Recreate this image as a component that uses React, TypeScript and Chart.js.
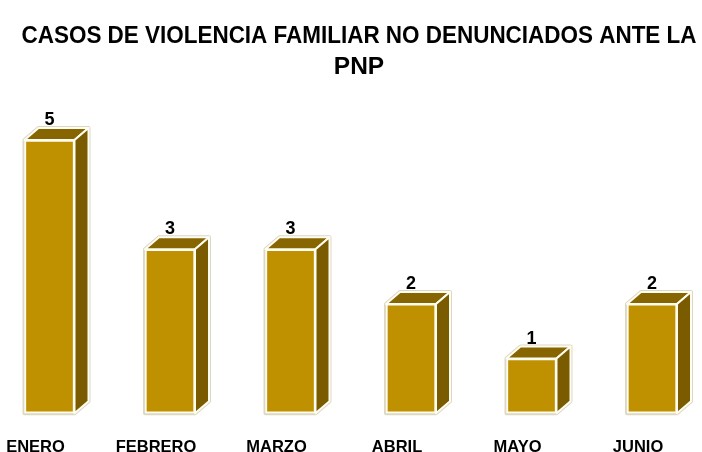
import React, { useEffect, useRef } from 'react';
import { Chart, registerables } from 'chart.js';

Chart.register(...registerables);

const categories = ['ENERO', 'FEBRERO', 'MARZO', 'ABRIL', 'MAYO', 'JUNIO'];
const casos = [5, 3, 3, 2, 1, 2];
const titleLines = ['CASOS DE VIOLENCIA FAMILIAR NO DENUNCIADOS ANTE LA', 'PNP'];

const FRONT = '#BF9000';
const TOP = '#876500';
const SIDE = '#7A5B00';
const DX = 14;
const DY = 12;
const FONT = "'Liberation Sans', Arial, Helvetica, sans-serif";
const BUF_H = 482;

const bars3d = {
  id: 'bars3d',
  beforeDatasetsDraw(chart: any) {
    const meta = chart.getDatasetMeta(0);
    const ctx = chart.ctx;
    ctx.save();
    meta.data.forEach((bar: any) => {
      const { x, y, base, width } = bar.getProps(['x', 'y', 'base', 'width'], true);
      const l = x - width / 2;
      const r = x + width / 2;
      ctx.beginPath();
      ctx.moveTo(l, base);
      ctx.lineTo(l, y);
      ctx.lineTo(l + DX, y - DY);
      ctx.lineTo(r + DX, y - DY);
      ctx.lineTo(r + DX, base - DY);
      ctx.lineTo(r, base);
      ctx.closePath();
      ctx.lineJoin = 'round';
      ctx.strokeStyle = '#ddd8c4';
      ctx.lineWidth = 4;
      ctx.stroke();
      ctx.beginPath();
      ctx.moveTo(l, y);
      ctx.lineTo(l + DX, y - DY);
      ctx.lineTo(r + DX, y - DY);
      ctx.lineTo(r, y);
      ctx.closePath();
      ctx.fillStyle = TOP;
      ctx.fill();
      ctx.strokeStyle = '#fffdf2';
      ctx.lineWidth = 2;
      ctx.stroke();
      ctx.beginPath();
      ctx.moveTo(r, y);
      ctx.lineTo(r + DX, y - DY);
      ctx.lineTo(r + DX, base - DY);
      ctx.lineTo(r, base);
      ctx.closePath();
      ctx.fillStyle = SIDE;
      ctx.fill();
      ctx.stroke();
    });
    ctx.restore();
  },
  afterDatasetsDraw(chart: any) {
    const meta = chart.getDatasetMeta(0);
    const ctx = chart.ctx;
    const data = chart.data.datasets[0].data;
    ctx.save();
    ctx.fillStyle = '#000';
    ctx.font = `bold 18px ${FONT}`;
    ctx.textAlign = 'center';
    ctx.textBaseline = 'middle';
    meta.data.forEach((bar: any, i: number) => {
      const { x, y } = bar.getProps(['x', 'y'], true);
      ctx.fillText(String(data[i]), x, y - 20);
    });
    ctx.restore();
  },
};

export default function App() {
  const ref = useRef<HTMLCanvasElement | null>(null);
  useEffect(() => {
    if (!ref.current) return;
    const chart = new Chart(ref.current, {
      type: 'bar',
      data: {
        labels: categories,
        datasets: [
          {
            data: casos,
            backgroundColor: FRONT,
            borderColor: '#fffdf2',
            borderWidth: 2,
            borderSkipped: false,
            barThickness: 50,
            clip: false as any,
          },
        ],
      },
      options: {
        animation: false,
        responsive: false,
        maintainAspectRatio: false,
        devicePixelRatio: 1,
        layout: { padding: { left: 21.5, right: 5.5, top: 0, bottom: 0 } },
        plugins: {
          legend: { display: false },
          tooltip: { enabled: false },
          title: {
            display: true,
            text: titleLines,
            color: '#000',
            font: { family: FONT, size: 24.5, weight: 'bold', lineHeight: 1.286 },
            padding: { top: 20.25, bottom: 56.75 },
          },
        },
        scales: {
          x: {
            offset: false,
            grid: { display: false, drawTicks: false, offset: false },
            border: { display: false },
            ticks: {
              color: '#000',
              padding: 24.5,
              labelOffset: -14,
              maxRotation: 0,
              autoSkip: false,
              font: { family: FONT, size: 16.5, weight: 'bold' },
            },
            afterFit: (scale: any) => {
              scale.paddingLeft = 0;
              scale.paddingRight = 0;
            },
          },
          y: {
            position: 'left',
            min: 0,
            max: 5,
            grid: { display: false, drawTicks: false },
            border: { display: false },
            ticks: { display: false },
            afterFit: (scale: any) => {
              scale.width = 28;
            },
          },
          yRight: {
            position: 'right',
            display: true,
            min: 0,
            max: 5,
            grid: { display: false, drawTicks: false },
            border: { display: false },
            ticks: { display: false },
            afterFit: (scale: any) => {
              scale.width = 44.5;
            },
          },
        },
      },
      plugins: [bars3d],
    });
    return () => chart.destroy();
  }, []);
  return (
    <div
      style={{
        position: 'fixed',
        left: 0,
        top: 0,
        width: 702,
        height: 452,
        overflow: 'hidden',
        background: '#fff',
      }}
    >
      <canvas
        ref={ref}
        width={702}
        height={BUF_H}
        style={{ width: '702px', height: `${BUF_H}px`, display: 'block' }}
      />
    </div>
  );
}
